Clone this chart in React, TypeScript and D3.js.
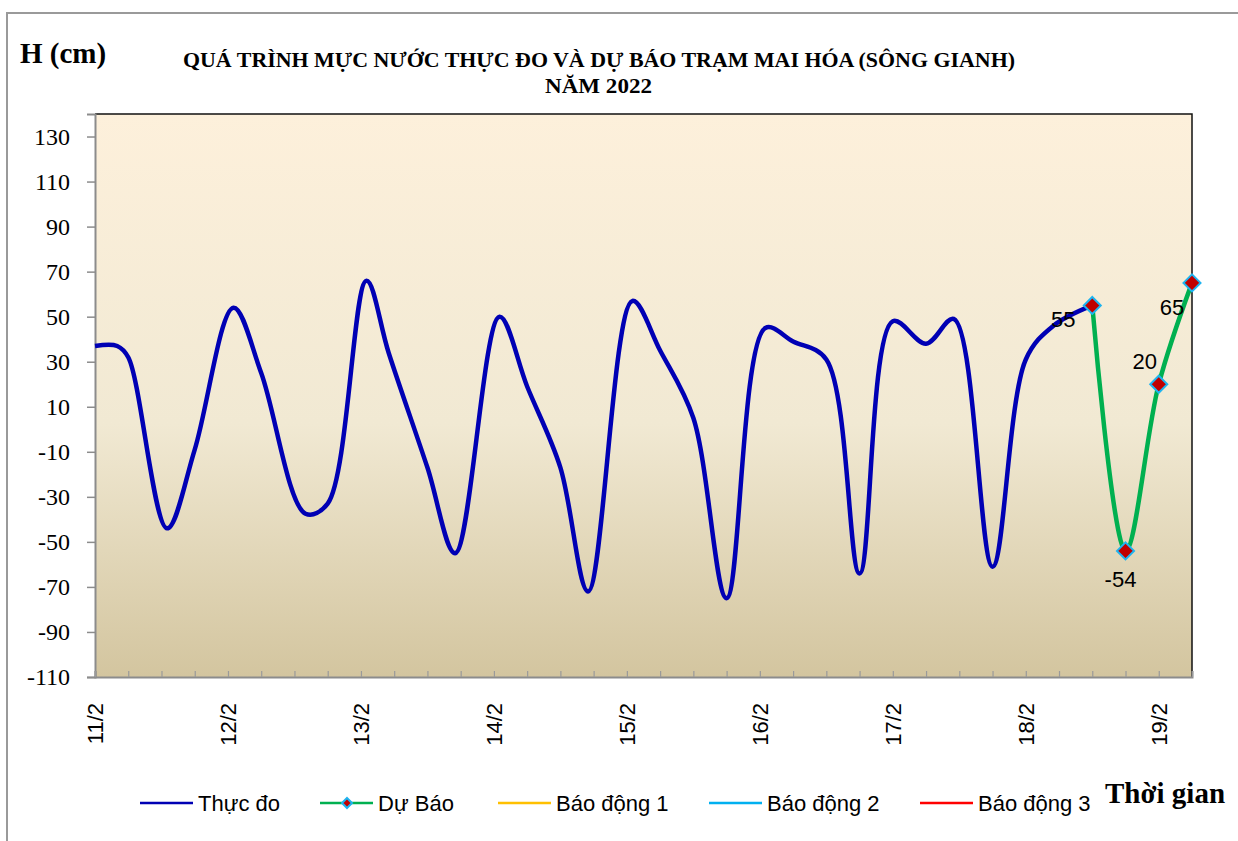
import { useEffect, useRef } from "react"
import * as d3 from "d3"

// hours counted from 11/2 00:00
const obsHours = [0, 4, 6, 13, 18, 25, 30, 38, 42, 49, 53, 60, 65, 73, 78, 84, 89, 97, 102, 108, 114, 121, 126, 132, 138, 144, 150, 155, 162, 168, 173, 180]
const obsLevels = [37, 37, 32, -44, -9, 54, 25, -37.5, -33, 66, 34, -17, -55, 50, 19, -17, -72, 57, 35, 5, -75, 45, 39, 31, -64, 48, 38, 49, -61, 31, 46, 55]

const fcHours = [180, 186, 192, 198]
const fcLevels = [55, -54, 20, 65]

const dayLabels = ["11/2", "12/2", "13/2", "14/2", "15/2", "16/2", "17/2", "18/2", "19/2"]
const yTicks = [-110, -90, -70, -50, -30, -10, 10, 30, 50, 70, 90, 110, 130]

const legendItems = [
  { name: "Thực đo", color: "#0000B4", marker: false },
  { name: "Dự Báo", color: "#00B050", marker: true },
  { name: "Báo động 1", color: "#FFC000", marker: false },
  { name: "Báo động 2", color: "#00B0F0", marker: false },
  { name: "Báo động 3", color: "#FF0000", marker: false },
]
const legendX = [140, 320, 498, 709, 920]

const serif = "'Liberation Serif', 'Times New Roman', serif"
const sans = "'Liberation Sans', Arial, sans-serif"

export default function App() {
  const svgRef = useRef<SVGSVGElement>(null)

  useEffect(() => {
    if (!svgRef.current) return
    const svg = d3.select(svgRef.current)
    svg.selectAll("*").remove()

    const left = 95, right = 1192, top = 114, bottom = 677

    const x = d3.scaleLinear().domain([0, 198]).range([left, right])
    const y = d3.scaleLinear().domain([-110, 140]).range([bottom, top])

    // outer frame
    svg.append("rect").attr("x", 7).attr("y", 13).attr("width", 1260).attr("height", 860)
      .attr("fill", "white").attr("stroke", "#9a9a9a").attr("stroke-width", 2)

    const defs = svg.append("defs")
    const grad = defs.append("linearGradient").attr("id", "bg").attr("x1", 0).attr("x2", 0).attr("y1", 0).attr("y2", 1)
    grad.append("stop").attr("offset", "0%").attr("stop-color", "#FDF0DB")
    grad.append("stop").attr("offset", "55%").attr("stop-color", "#F1E9D3")
    grad.append("stop").attr("offset", "100%").attr("stop-color", "#D3C59F")

    svg.append("rect").attr("x", left).attr("y", top).attr("width", right - left).attr("height", bottom - top)
      .attr("fill", "url(#bg)")

    // top & right border
    svg.append("path").attr("d", `M${left},${top}H${right}V${bottom}`).attr("fill", "none")
      .attr("stroke", "#111").attr("stroke-width", 1.5)

    // y axis
    const yAxis = svg.append("g").attr("transform", `translate(${left},0)`)
      .call(d3.axisLeft(y).tickValues(yTicks).tickSize(8).tickPadding(17).tickFormat((d) => String(d)))
    yAxis.select(".domain").attr("stroke", "#8c8c8c").attr("stroke-width", 2)
    yAxis.selectAll(".tick line").attr("stroke", "#8c8c8c").attr("stroke-width", 1.5)
    yAxis.selectAll(".tick text").attr("font-family", serif).attr("font-size", 24).attr("fill", "#000")

    // x axis with 6-hour inner ticks
    const xAxis = svg.append("g").attr("transform", `translate(0,${bottom})`)
      .call(d3.axisBottom(x).tickValues(d3.range(0, 199, 6)).tickSize(-6).tickFormat(() => ""))
    xAxis.select(".domain").attr("stroke", "#8c8c8c").attr("stroke-width", 2)
    xAxis.selectAll(".tick line").attr("stroke", "#9a9a9a").attr("stroke-width", 1.2)

    svg.append("g").selectAll("text").data(dayLabels).join("text")
      .attr("transform", (_, i) => `translate(${x(i * 24) + 8},703) rotate(-90)`)
      .attr("text-anchor", "end")
      .attr("font-family", sans).attr("font-size", 22).attr("fill", "#000")
      .text((d) => d)

    // observed
    const line = d3.line<number>()
      .x((_, i) => x(obsHours[i]))
      .y((d) => y(d))
      .curve(d3.curveCatmullRom.alpha(0.5))
    svg.append("path").datum(obsLevels).attr("d", line)
      .attr("fill", "none").attr("stroke", "#0000B4").attr("stroke-width", 4.5).attr("stroke-linejoin", "round")

    // forecast
    const fcLine = d3.line<number>()
      .x((_, i) => x(fcHours[i]))
      .y((d) => y(d))
      .curve(d3.curveCatmullRom.alpha(0.5))
    svg.append("path").datum(fcLevels).attr("d", fcLine)
      .attr("fill", "none").attr("stroke", "#00B050").attr("stroke-width", 4.5)

    const diamond = (s: number) => `M0,${-s}L${s},0L0,${s}L${-s},0Z`
    svg.append("g").selectAll("path").data(fcLevels).join("path")
      .attr("transform", (d, i) => `translate(${x(fcHours[i])},${y(d)})`)
      .attr("d", diamond(8.5))
      .attr("fill", "#C00000").attr("stroke", "#1EB4F0").attr("stroke-width", 2)

    // data labels
    const labelOffsets = [[-29, 22], [-5, 36], [-14, -15], [-20, 32]]
    svg.append("g").selectAll("text").data(fcLevels).join("text")
      .attr("x", (_, i) => x(fcHours[i]) + labelOffsets[i][0])
      .attr("y", (d, i) => y(d) + labelOffsets[i][1])
      .attr("text-anchor", "middle")
      .attr("font-family", sans).attr("font-size", 22).attr("fill", "#000")
      .text((d) => d)

    // titles
    svg.append("text").attr("x", 20).attr("y", 63).attr("font-family", serif).attr("font-weight", "bold")
      .attr("font-size", 29).text("H (cm)")
    svg.append("text").attr("x", 183).attr("y", 67).attr("font-family", serif)
      .attr("font-weight", "bold").attr("font-size", 20)
      .attr("textLength", 832).attr("lengthAdjust", "spacingAndGlyphs")
      .text("QUÁ TRÌNH MỰC NƯỚC THỰC ĐO VÀ DỰ BÁO TRẠM MAI HÓA (SÔNG GIANH)")
    svg.append("text").attr("x", 545).attr("y", 93).attr("font-family", serif)
      .attr("font-weight", "bold").attr("font-size", 20)
      .attr("textLength", 107).attr("lengthAdjust", "spacingAndGlyphs").text("NĂM  2022")
    svg.append("text").attr("x", 1105).attr("y", 803).attr("font-family", serif).attr("font-weight", "bold")
      .attr("font-size", 29).text("Thời gian")

    // legend
    const lg = svg.append("g").selectAll("g").data(legendItems).join("g")
      .attr("transform", (_, i) => `translate(${legendX[i]},803)`)
    lg.append("line").attr("x1", 0).attr("x2", 53).attr("stroke", (d) => d.color).attr("stroke-width", 2.5)
    lg.filter((d) => d.marker).append("path").attr("transform", "translate(27,0)").attr("d", diamond(5))
      .attr("fill", "#C00000").attr("stroke", "#1EB4F0").attr("stroke-width", 2)
    lg.append("text").attr("x", 58).attr("y", 8).attr("font-family", sans).attr("font-size", 22).attr("fill", "#000")
      .text((d) => d.name)
  }, [])

  return (
    <svg ref={svgRef} width={1238} height={841} style={{ position: "absolute", left: 0, top: 0 }} />
  )
}
